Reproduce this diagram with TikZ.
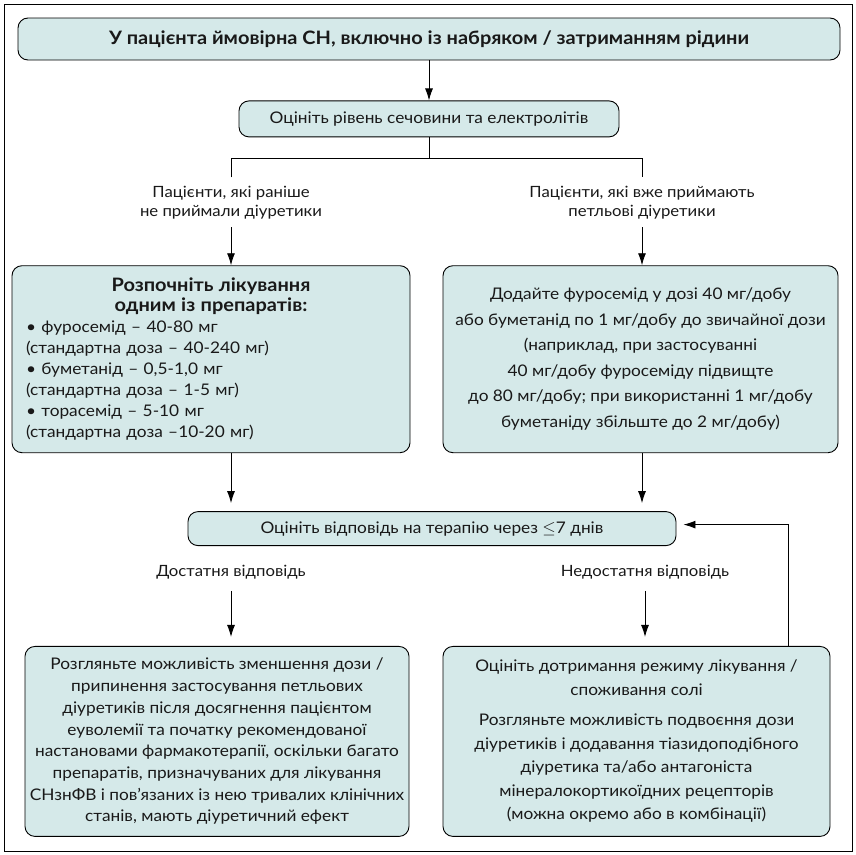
\documentclass[tikz,border=0pt]{standalone}
\usepackage{fontspec}
\setmainfont[FakeStretch=1.08]{Lato}
\usetikzlibrary{arrows.meta,positioning}
\definecolor{boxfill}{RGB}{213,233,233}
\definecolor{ink}{RGB}{25,25,25}

\begin{document}
\begin{tikzpicture}[
        x=1pt, y=1pt,
        >={Latex[length=12pt,width=8pt]},
        every path/.style={line width=0.9pt},
        stepbox/.style={draw, rounded corners=10pt, fill=boxfill, align=center, inner sep=0pt, text=ink, font=\fontsize{16}{18}\selectfont},
        branch/.style={align=center, inner sep=0pt, text=ink, font=\fontsize{15.5}{19}\selectfont}
    ]

    \useasboundingbox (0,0) rectangle (856,-854);
    \draw[line width=1pt] (4,-4) rectangle (852,-851);

    % Nodes
    \node (patient) [stepbox, minimum width=822pt, minimum height=42pt, font=\bfseries\fontsize{18.5}{20}\selectfont] at (429,-39)
        {У пацієнта ймовірна СН, включно із набряком / затриманням рідини};
    \node (urea) [below=40pt of patient, stepbox, minimum width=380pt, minimum height=36pt]
        {Оцініть рівень сечовини та електролітів};
    \coordinate[below=21pt of urea] (split);

    \node (naive) [below=19pt of split, xshift=-198pt, branch, minimum height=49pt]
        {Пацієнти, які раніше\\не приймали діуретики};
    \node (loop) [below=19pt of split, xshift=213pt, branch, minimum height=49pt]
        {Пацієнти, які вже приймають\\петльові діуретики};

    \node (start) [below=38pt of naive, xshift=-20pt, stepbox, minimum width=398pt, minimum height=187pt,
        text width=370pt, align=left, font=\fontsize{16}{21}\selectfont]
        {{\centering\bfseries\fontsize{18.5}{20}\selectfont Розпочніть лікування\\ одним із препаратів:\par}
        • фуросемід – 40-80 мг\\
        (стандартна доза – 40-240 мг)\\
        • буметанід – 0,5-1,0 мг\\
        (стандартна доза – 1-5 мг)\\
        • торасемід – 5-10 мг\\
        (стандартна доза –10-20 мг)};
    \node (add) [below=38pt of loop, xshift=-1.5pt, stepbox, minimum width=395pt, minimum height=187pt,
        font=\fontsize{16}{25.5}\selectfont]
        {Додайте фуросемід у дозі 40 мг/добу\\
        або буметанід по 1 мг/добу до звичайної дози\\
        (наприклад, при застосуванні\\
        40 мг/добу фуросеміду підвищте\\
        до 80 мг/добу; при використанні 1 мг/добу\\
        буметаніду збільште до 2 мг/добу)};

    \node (review) [below=58pt of start, xshift=221pt, stepbox, minimum width=488pt, minimum height=34pt]
        {Оцініть відповідь на терапію через $\leq$7 днів};
    \node (enough) [below=8pt of review, xshift=-201pt, branch, minimum height=36pt] {Достатня відповідь};
    \node (notenough) [below=8pt of review, xshift=213pt, branch, minimum height=36pt] {Недостатня відповідь};

    \node (taper) [below=55pt of enough, xshift=-14pt, stepbox, minimum width=384pt, minimum height=190pt,
        font=\fontsize{16}{21.7}\selectfont]
        {Розгляньте можливість зменшення дози /\\
        припинення застосування петльових\\
        діуретиків після досягнення пацієнтом\\
        еуволемії та початку рекомендованої\\
        настановами фармакотерапії, оскільки багато\\
        препаратів, призначуваних для лікування\\
        СНзнФВ і пов’язаних із нею тривалих клінічних\\
        станів, мають діуретичний ефект};
    \node (adhere) [below=55pt of notenough, xshift=-8.5pt, stepbox, minimum width=387pt, minimum height=190pt,
        font=\fontsize{16}{23.5}\selectfont]
        {Оцініть дотримання режиму лікування /\\
        споживання солі\\[7pt]
        Розгляньте можливість подвоєння дози\\
        діуретиків і додавання тіазидоподібного\\
        діуретика та/або антагоніста\\
        мінералокортикоїдних рецепторів\\
        (можна окремо або в комбінації)};

    % Edges
    \draw[->] (patient) -- (urea);
    \draw (urea) -- (split);
    \draw (naive) |- (split) -| (loop);
    \draw[->] (naive) -- (naive |- start.north);
    \draw[->] (loop) -- (loop |- add.north);
    \draw[->, shorten >=8pt] (naive |- start.south) -- (naive |- review.north);
    \draw[->, shorten >=8pt] (loop |- add.south) -- (loop |- review.north);
    \draw[->, shorten >=9pt] (enough) -- (enough |- taper.north);
    \draw[->, shorten >=9pt] (notenough) -- (notenough |- adhere.north);
    \draw[->, shorten >=7pt] ([xshift=151.5pt]adhere.north) |- ([yshift=4pt]review.east);

\end{tikzpicture}
\end{document}
